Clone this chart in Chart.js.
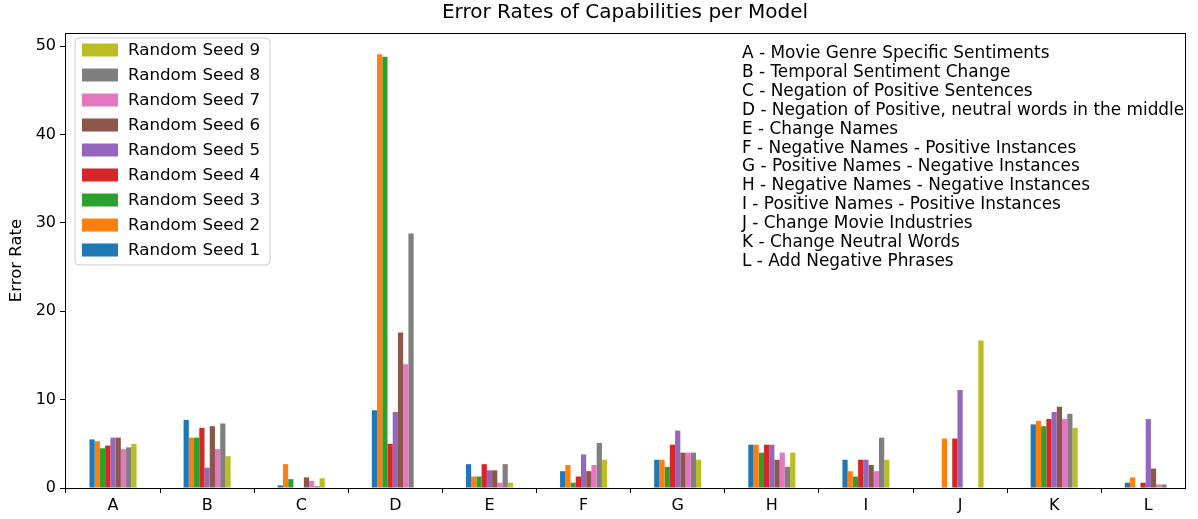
<!DOCTYPE html>
<html>
<head>
<meta charset="utf-8">
<script src="https://cdn.jsdelivr.net/npm/chart.js@4/dist/chart.umd.min.js"></script>
<style>
  html, body { margin: 0; padding: 0; background: #fff; }
  #wrap { position: relative; width: 1198px; height: 519px; }
  #notes {
    position: absolute; left: 742px; top: 43px;
    font-family: "DejaVu Sans", sans-serif; font-size: 16.9px; line-height: 18.9px;
    color: #000; white-space: pre;
  }
</style>
</head>
<body>
<div id="wrap">
  <canvas id="errorChart" width="1198" height="519"></canvas>
  <div id="notes"></div>
</div>
<script>
// categories and series
const categories = ['A', 'B', 'C', 'D', 'E', 'F', 'G', 'H', 'I', 'J', 'K', 'L'];
const seed1 = [5.5, 7.7, 0.3, 8.8, 2.7, 1.9, 3.2, 4.9, 3.2, 0, 7.2, 0.6];
const seed2 = [5.3, 5.7, 2.7, 49.1, 1.3, 2.6, 3.2, 4.9, 1.9, 5.6, 7.6, 1.2];
const seed3 = [4.5, 5.7, 1.0, 48.8, 1.3, 0.6, 2.4, 4.0, 1.3, 0, 7.0, 0];
const seed4 = [4.8, 6.8, 0, 5.0, 2.7, 1.3, 4.9, 4.9, 3.2, 5.6, 7.8, 0.6];
const seed5 = [5.7, 2.3, 0, 8.6, 2.0, 3.8, 6.5, 4.9, 3.2, 11.1, 8.6, 7.8];
const seed6 = [5.7, 7.0, 1.2, 17.6, 2.0, 1.9, 4.0, 3.2, 2.6, 0, 9.2, 2.2];
const seed7 = [4.4, 4.4, 0.8, 14.0, 0.6, 2.6, 4.0, 4.0, 1.9, 0, 7.8, 0.4];
const seed8 = [4.6, 7.3, 0.2, 28.8, 2.7, 5.1, 4.0, 2.4, 5.7, 0, 8.4, 0.4];
const seed9 = [5.0, 3.6, 1.1, 0, 0.6, 3.2, 3.2, 4.0, 3.2, 16.7, 6.8, 0];
const yTicks = [0, 10, 20, 30, 40, 50];
const descriptions = [
    'A - Movie Genre Specific Sentiments',
    'B - Temporal Sentiment Change',
    'C - Negation of Positive Sentences',
    'D - Negation of Positive, neutral words in the middle',
    'E - Change Names',
    'F - Negative Names - Positive Instances',
    'G - Positive Names - Negative Instances',
    'H - Negative Names - Negative Instances',
    'I - Positive Names - Positive Instances',
    'J - Change Movie Industries',
    'K - Change Neutral Words',
    'L - Add Negative Phrases'
];

const seeds = [seed1, seed2, seed3, seed4, seed5, seed6, seed7, seed8, seed9];
const colors = ['#1f77b4', '#ff7f0e', '#2ca02c', '#d62728', '#9467bd',
                '#8c564b', '#e377c2', '#7f7f7f', '#bcbd22'];

document.getElementById('notes').textContent = descriptions.join('\n');

const FONT = '"DejaVu Sans", sans-serif';

// box around the plot + legend inside the axes
const frameAndLegend = {
    id: 'frameAndLegend',
    afterDatasetsDraw(chart) {
        const ctx = chart.ctx;
        const a = chart.chartArea;
        ctx.save();
        ctx.strokeStyle = '#000';
        ctx.lineWidth = 1;
        ctx.strokeRect(a.left + 0.5, a.top + 0.5, a.right - a.left, a.bottom - a.top);

        // legend box
        const x = 75, y = 38, w = 195, h = 227, r = 4;
        ctx.beginPath();
        ctx.moveTo(x + r, y);
        ctx.arcTo(x + w, y, x + w, y + h, r);
        ctx.arcTo(x + w, y + h, x, y + h, r);
        ctx.arcTo(x, y + h, x, y, r);
        ctx.arcTo(x, y, x + w, y, r);
        ctx.closePath();
        ctx.fillStyle = 'rgba(255,255,255,0.8)';
        ctx.fill();
        ctx.strokeStyle = '#cccccc';
        ctx.stroke();

        ctx.font = '16.7px ' + FONT;
        ctx.textBaseline = 'middle';
        const ds = chart.data.datasets;
        for (let i = 0; i < ds.length; i++) {
            const d = ds[ds.length - 1 - i];
            const cy = 50 + i * 25;
            ctx.fillStyle = d.backgroundColor;
            ctx.fillRect(82, cy - 6.5, 36, 13);
            ctx.fillStyle = '#000';
            ctx.fillText(d.label, 128, cy + 1);
        }
        ctx.restore();
    }
};

const ctx = document.getElementById('errorChart').getContext('2d');
new Chart(ctx, {
    type: 'bar',
    data: {
        datasets: seeds.map((s, k) => ({
            label: 'Random Seed ' + (k + 1),
            data: s.map((v, i) => ({ x: i, y: v })),
            backgroundColor: colors[k],
            borderWidth: 0,
            categoryPercentage: 0.5,
            barPercentage: 1.0
        }))
    },
    options: {
        responsive: false,
        animation: false,
        layout: { padding: { left: 0, right: 13, top: 0, bottom: 0 } },
        plugins: {
            legend: { display: false },
            tooltip: { enabled: false },
            title: {
                display: true,
                fullSize: false,
                text: 'Error Rates of Capabilities per Model',
                color: '#000',
                font: { family: FONT, size: 20, weight: 'normal' },
                padding: { top: 1, bottom: 8 }
            }
        },
        scales: {
            x: {
                type: 'linear',
                min: -0.51,
                max: 11.39,
                offset: false,
                afterBuildTicks: axis => { axis.ticks = categories.map((c, i) => ({ value: i })); },
                afterFit: scale => { scale.height = 31; },
                ticks: {
                    autoSkip: false,
                    maxRotation: 0,
                    color: '#000',
                    padding: 3,
                    font: { family: FONT, size: 16 },
                    callback: v => categories[v]
                },
                grid: { drawOnChartArea: false, drawTicks: true, tickLength: 5, color: '#000' },
                border: { display: true, color: '#000', width: 1 }
            },
            y: {
                min: 0,
                max: 51.5,
                afterBuildTicks: axis => { axis.ticks = yTicks.map(v => ({ value: v })); },
                afterFit: scale => { scale.width = 65; },
                ticks: {
                    color: '#000',
                    padding: 4,
                    font: { family: FONT, size: 16 }
                },
                grid: { drawOnChartArea: false, drawTicks: true, tickLength: 5, color: '#000' },
                border: { display: true, color: '#000', width: 1 },
                title: {
                    display: true,
                    text: 'Error Rate',
                    color: '#000',
                    font: { family: FONT, size: 16.5 },
                    padding: { top: 7, bottom: 4 }
                }
            }
        }
    },
    plugins: [frameAndLegend]
});
</script>
</body>
</html>
